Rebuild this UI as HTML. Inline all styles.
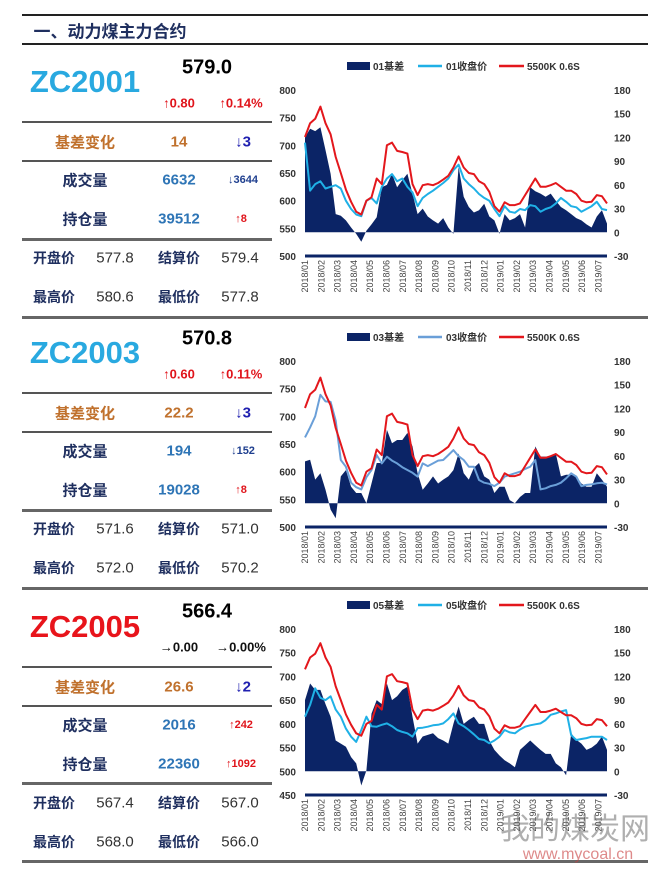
<!DOCTYPE html>
<html><head><meta charset="utf-8">
<style>
body{margin:0;background:#fff;}
#page{position:relative;width:663px;height:879px;overflow:hidden;background:#fff;font-family:"Liberation Sans","Noto Sans CJK SC",sans-serif;}
.t{position:absolute;transform:translate(-50%,-50%);white-space:nowrap;font-weight:bold;}
.hl{position:absolute;height:2px;background:#222;}
.ln{position:absolute;height:2px;background:#555;}
.thk{position:absolute;height:3px;background:#666;}
svg{position:absolute;left:0;top:0;}
.big{font-size:31px;color:#29a9e0;}
.price{font-size:20px;color:#000;}
.up{font-size:13px;color:#e0141b;}
.fl{font-size:13px;color:#111;}
.jc{font-size:15px;color:#c0712d;}
.dn{font-size:15px;color:#2020b0;}
.lab{font-size:15px;color:#1f2f5f;}
.val{font-size:15px;color:#2e75b6;}
.sdn{font-size:11px;color:#1f3f8f;}
.sup{font-size:11px;color:#e0141b;}
.k{font-size:14px;color:#1f2f5f;}
.kv{font-size:15px;color:#333;font-weight:normal;}
</style></head><body>
<div id="page">
<div class="hl" style="left:22px;top:14px;width:626px"></div>
<div class="t" style="left:110px;top:30px;font-size:17px;color:#1f2f5f">一、动力煤主力合约</div>
<div class="hl" style="left:22px;top:43px;width:626px"></div>

<div>
<div class="t price" style="left:207px;top:68px">579.0</div>
<div class="t big" style="left:85px;top:82px">ZC2001</div>
<div class="t up" style="left:179px;top:103px">↑0.80</div>
<div class="t up" style="left:241px;top:103px">↑0.14%</div>
<div class="ln" style="left:22px;top:121px;width:250px"></div>
<div class="t jc" style="left:85px;top:142px">基差变化</div>
<div class="t jc" style="left:179px;top:142px">14</div>
<div class="t dn" style="left:243px;top:142px">↓3</div>
<div class="ln" style="left:22px;top:160px;width:250px"></div>
<div class="t lab" style="left:85px;top:180px">成交量</div>
<div class="t val" style="left:179px;top:180px">6632</div>
<div class="t sdn" style="left:243px;top:180px">↓3644</div>
<div class="t lab" style="left:85px;top:219px">持仓量</div>
<div class="t val" style="left:179px;top:219px">39512</div>
<div class="t sup" style="left:241px;top:219px">↑8</div>
<div class="thk" style="left:22px;top:238px;width:250px"></div>
<div class="t k" style="left:54px;top:258px">开盘价</div>
<div class="t kv" style="left:115px;top:258px">577.8</div>
<div class="t k" style="left:179px;top:258px">结算价</div>
<div class="t kv" style="left:240px;top:258px">579.4</div>
<div class="t k" style="left:54px;top:297px">最高价</div>
<div class="t kv" style="left:115px;top:297px">580.6</div>
<div class="t k" style="left:179px;top:297px">最低价</div>
<div class="t kv" style="left:240px;top:297px">577.8</div>
<div class="thk" style="left:22px;top:316px;width:626px"></div>
</div>

<div>
<div class="t price" style="left:207px;top:339px">570.8</div>
<div class="t big" style="left:85px;top:353px">ZC2003</div>
<div class="t up" style="left:179px;top:374px">↑0.60</div>
<div class="t up" style="left:241px;top:374px">↑0.11%</div>
<div class="ln" style="left:22px;top:392px;width:250px"></div>
<div class="t jc" style="left:85px;top:413px">基差变化</div>
<div class="t jc" style="left:179px;top:413px">22.2</div>
<div class="t dn" style="left:243px;top:413px">↓3</div>
<div class="ln" style="left:22px;top:431px;width:250px"></div>
<div class="t lab" style="left:85px;top:451px">成交量</div>
<div class="t val" style="left:179px;top:451px">194</div>
<div class="t sdn" style="left:243px;top:451px">↓152</div>
<div class="t lab" style="left:85px;top:490px">持仓量</div>
<div class="t val" style="left:179px;top:490px">19028</div>
<div class="t sup" style="left:241px;top:490px">↑8</div>
<div class="thk" style="left:22px;top:509px;width:250px"></div>
<div class="t k" style="left:54px;top:529px">开盘价</div>
<div class="t kv" style="left:115px;top:529px">571.6</div>
<div class="t k" style="left:179px;top:529px">结算价</div>
<div class="t kv" style="left:240px;top:529px">571.0</div>
<div class="t k" style="left:54px;top:568px">最高价</div>
<div class="t kv" style="left:115px;top:568px">572.0</div>
<div class="t k" style="left:179px;top:568px">最低价</div>
<div class="t kv" style="left:240px;top:568px">570.2</div>
<div class="thk" style="left:22px;top:587px;width:626px"></div>
</div>

<div>
<div class="t price" style="left:207px;top:612px">566.4</div>
<div class="t big" style="left:85px;top:627px;color:#e8141b">ZC2005</div>
<div class="t fl" style="left:179px;top:647px">→0.00</div>
<div class="t fl" style="left:241px;top:647px">→0.00%</div>
<div class="ln" style="left:22px;top:666px;width:250px"></div>
<div class="t jc" style="left:85px;top:687px">基差变化</div>
<div class="t jc" style="left:179px;top:687px">26.6</div>
<div class="t dn" style="left:243px;top:687px">↓2</div>
<div class="ln" style="left:22px;top:705px;width:250px"></div>
<div class="t lab" style="left:85px;top:725px">成交量</div>
<div class="t val" style="left:179px;top:725px">2016</div>
<div class="t sup" style="left:241px;top:725px">↑242</div>
<div class="t lab" style="left:85px;top:764px">持仓量</div>
<div class="t val" style="left:179px;top:764px">22360</div>
<div class="t sup" style="left:241px;top:764px">↑1092</div>
<div class="thk" style="left:22px;top:782px;width:250px"></div>
<div class="t k" style="left:54px;top:803px">开盘价</div>
<div class="t kv" style="left:115px;top:803px">567.4</div>
<div class="t k" style="left:179px;top:803px">结算价</div>
<div class="t kv" style="left:240px;top:803px">567.0</div>
<div class="t k" style="left:54px;top:842px">最高价</div>
<div class="t kv" style="left:115px;top:842px">568.0</div>
<div class="t k" style="left:179px;top:842px">最低价</div>
<div class="t kv" style="left:240px;top:842px">566.0</div>
<div class="thk" style="left:22px;top:860px;width:626px"></div>
</div>

<svg id="charts" width="663" height="879"></svg>
<div class="t" style="left:575px;top:826px;font-size:30px;color:rgba(110,110,110,0.55);font-weight:normal">我的煤炭网</div>
<div class="t" style="left:578px;top:855px;font-size:16px;color:rgba(200,60,60,0.6);font-weight:normal">www.mycoal.cn</div>
</div>
<script>
const monthLabels = ["2018/01","2018/02","2018/03","2018/04","2018/05","2018/06","2018/07","2018/08","2018/09","2018/10","2018/11","2018/12","2019/01","2019/02","2019/03","2019/04","2019/05","2019/06","2019/07"];
const red5500 = [715,740,748,770,740,720,679,650,620,598,580,575,600,606,640,630,700,705,690,688,685,630,610,628,630,628,632,638,645,660,680,660,650,648,635,630,616,590,580,597,592,592,595,610,625,640,625,625,628,632,625,618,618,612,600,597,598,610,608,595];
const close01 = [705,618,630,635,622,625,628,622,600,585,575,572,600,605,595,625,640,648,635,640,625,615,590,605,612,618,625,632,640,655,665,640,630,622,612,605,600,585,572,590,580,578,585,583,592,590,580,585,588,595,605,598,590,588,580,585,590,598,585,583];
const basis01 = [120,131,128,133,104,74,23,21,15,6,-2,-12,2,10,19,57,60,74,57,66,74,49,23,30,20,15,11,18,6,-2,83,45,32,25,28,36,20,15,-2,23,15,18,23,6,57,52,49,45,49,40,32,28,23,18,15,10,6,20,28,11];
const close03 = [662,680,700,739,727,726,692,621,609,580,572,568,590,603,630,615,627,620,615,608,603,598,591,615,610,615,620,621,630,639,628,621,609,609,585,580,578,574,580,591,594,597,600,605,609,621,568,570,574,576,580,588,597,591,574,576,577,579,580,577];
const basis03 = [53,55,30,38,17,-8,-19,34,42,21,13,13,0,25,51,51,93,76,80,80,89,72,38,17,25,34,25,30,34,42,63,38,30,45,51,34,30,13,21,21,4,0,8,13,13,72,59,59,59,63,34,36,36,34,25,21,21,38,30,21];
const close05 = [615,640,675,655,650,658,630,615,590,573,562,587,615,595,594,598,601,595,587,583,580,573,591,592,594,597,598,601,610,622,601,595,587,578,568,566,559,565,573,587,582,580,588,594,597,599,601,608,619,622,626,629,576,566,568,570,573,573,573,566];
const basis05 = [90,111,103,103,85,69,39,35,31,18,10,-18,1,73,90,85,111,90,95,103,107,69,35,44,46,48,42,39,35,60,82,60,65,69,60,60,39,27,20,14,10,5,27,33,39,33,27,22,22,10,5,-5,48,40,35,27,30,35,44,27];
const leftTicks12 = [800,750,700,650,600,550,500];
const leftTicks3 = [800,750,700,650,600,550,500,450];
const rightTicks = [180,150,120,90,60,30,0,-30];

const NS = "http://www.w3.org/2000/svg";
const svg = document.getElementById('charts');
function mk(tag, attrs){const e=document.createElementNS(NS,tag);for(const k in attrs)e.setAttribute(k,attrs[k]);return e;}

function drawChart(o){
  const g = mk('g',{});
  
  
  svg.appendChild(g);
  const x0=305,x1=607,n=o.close.length;
  const xs=i=>x0+i*(x1-x0)/(n-1);
  const yl=v=>o.top+(o.lmax-v)/(o.lmax-o.lmin)*(o.bot-o.top);
  const yr=v=>o.top+(180-v)/210*(o.bot-o.top);
  let d='M'+xs(0)+','+yr(0);
  o.basis.forEach((v,i)=>{d+=' L'+xs(i).toFixed(1)+','+yr(v).toFixed(1);});
  d+=' L'+xs(n-1)+','+yr(0)+' Z';
  const area=mk('path',{d:d,fill:'#0b2466'});
  
  
  g.appendChild(area);
  const line=(arr,col,nm)=>{
    let p='';arr.forEach((v,i)=>{p+=(i?' L':'M')+xs(i).toFixed(1)+','+yl(v).toFixed(1);});
    const e=mk('path',{d:p,fill:'none',stroke:col,'stroke-width':2,'stroke-linejoin':'round'});
    
    
    g.appendChild(e);
  };
  line(o.close,o.ccol,'close-line');
  line(red5500,'#e3171c','5500k-line');
  const ax=mk('line',{x1:x0,x2:x1,y1:o.bot,y2:o.bot,stroke:'#0b2466','stroke-width':3});
  
  
  g.appendChild(ax);
  o.lt.forEach(v=>{
    const t=mk('text',{x:296,y:yl(v)+4,'text-anchor':'end','font-size':10,'font-weight':'bold',fill:'#333'});
    t.textContent=v;
    
    
    g.appendChild(t);
  });
  rightTicks.forEach(v=>{
    const t=mk('text',{x:614,y:yr(v)+4,'text-anchor':'start','font-size':10,'font-weight':'bold',fill:'#333'});
    t.textContent=v;
    
    
    g.appendChild(t);
  });
  monthLabels.forEach((m,k)=>{
    const x=305+k*16.3+3, y=o.bot+4;
    const t=mk('text',{x:x,y:y,'text-anchor':'end','font-size':9,fill:'#444',transform:'rotate(-90 '+x+' '+y+')'});
    t.textContent=m;
    
    
    g.appendChild(t);
  });
  const ly=o.ly;
  const r=mk('rect',{x:347,y:ly-4,width:23,height:8,fill:'#0b2466'});
  
  
  g.appendChild(r);
  const l1=mk('line',{x1:418,x2:442,y1:ly,y2:ly,stroke:o.ccol,'stroke-width':2.5});
  
  
  g.appendChild(l1);
  const l2=mk('line',{x1:499,x2:524,y1:ly,y2:ly,stroke:'#e3171c','stroke-width':2.5});
  
  
  g.appendChild(l2);
  [[373,o.c+'基差'],[446,o.c+'收盘价'],[527,'5500K 0.6S']].forEach(a=>{
    const t=mk('text',{x:a[0],y:ly+4,'font-size':10,'font-weight':'bold',fill:'#333'});
    t.textContent=a[1];
    
    
    g.appendChild(t);
  });
}
drawChart({name:'chart-zc2001',top:90,bot:256,lmax:800,lmin:500,lt:leftTicks12,close:close01,basis:basis01,ccol:'#1fb0e6',c:'01',ly:66});
drawChart({name:'chart-zc2003',top:361,bot:527,lmax:800,lmin:500,lt:leftTicks12,close:close03,basis:basis03,ccol:'#6a9fd8',c:'03',ly:337});
drawChart({name:'chart-zc2005',top:629,bot:795,lmax:800,lmin:450,lt:leftTicks3,close:close05,basis:basis05,ccol:'#1fb0e6',c:'05',ly:605});
</script>
</body></html>
